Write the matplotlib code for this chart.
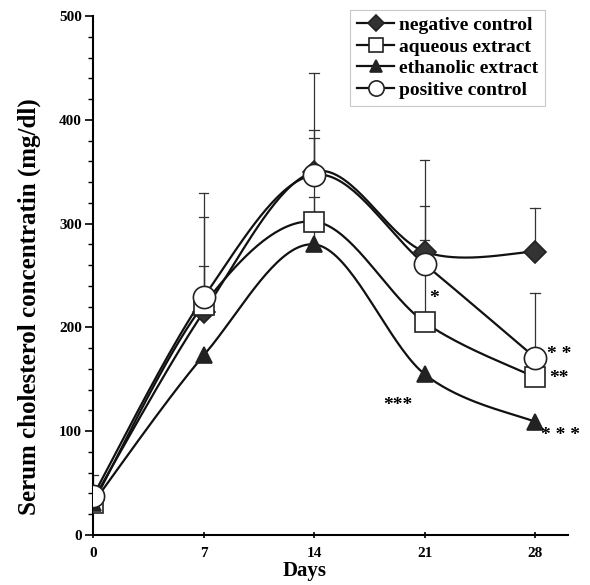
import numpy as np
import matplotlib
matplotlib.use("Agg")
import matplotlib.pyplot as plt
from matplotlib.ticker import MultipleLocator

plt.rcParams['font.family'] = ['Liberation Serif', 'DejaVu Serif']
plt.rcParams['font.weight'] = 'bold'

days = [0, 7, 14, 21, 28]
negative_control = [34, 215, 350, 273, 273]
aqueous_extract = [31, 222, 302, 205, 152]
ethanolic_extract = [31, 173, 280, 155, 109]
positive_control = [38, 229, 347, 261, 171]

# upper error-bar tops (only the upper half is drawn); NaN = not visible
negative_top = [np.nan, 306, 445, 284, 315]
aqueous_top = [np.nan, 259, 383, 317, np.nan]
ethanolic_top = [np.nan, np.nan, 326, np.nan, np.nan]
positive_top = [58, 330, 390, 361, 233]

labels = ["negative control", "aqueous extract", "ethanolic extract", "positive control"]
asterisks = [("*", 21.6, 228), ("***", 19.3, 125), ("* *", 29.5, 174),
             ("**", 29.5, 151), ("* * *", 29.6, 96)]


def catmull_rom(x, y, n=40):
    x = np.asarray(x, float); y = np.asarray(y, float)
    px = np.concatenate([[x[0]], x, [x[-1]]])
    py = np.concatenate([[y[0]], y, [y[-1]]])
    xs, ys = [], []
    t = np.linspace(0, 1, n)
    for i in range(1, len(px) - 2):
        p0, p1, p2, p3 = [np.array([px[j], py[j]]) for j in (i - 1, i, i + 1, i + 2)]
        c1 = p1 + (p2 - p0) / 6.0
        c2 = p2 - (p3 - p1) / 6.0
        b = ((1 - t) ** 3)[:, None] * p1 + (3 * (1 - t) ** 2 * t)[:, None] * c1 + \
            (3 * (1 - t) * t ** 2)[:, None] * c2 + (t ** 3)[:, None] * p2
        xs.append(b[:, 0]); ys.append(b[:, 1])
    return np.concatenate(xs), np.concatenate(ys)


fig = plt.figure(figsize=(5.9, 5.85), dpi=100)
ax = fig.add_axes([0.158, 0.0855, 0.805, 0.887])

series = [
    (negative_control, negative_top, dict(marker='D', markerfacecolor='#333333', markeredgecolor='#222222'), 11, 8),
    (aqueous_extract, aqueous_top, dict(marker='s', markerfacecolor='white', markeredgecolor='#222222'), 15, 10),
    (ethanolic_extract, ethanolic_top, dict(marker='^', markerfacecolor='#222222', markeredgecolor='#222222'), 12, 8),
    (positive_control, positive_top, dict(marker='o', markerfacecolor='white', markeredgecolor='#222222'), 16, 11),
]

# error bars (upper only)
for vals, tops, st, ms, lms in series:
    for d, v, t in zip(days, vals, tops):
        if np.isnan(t):
            continue
        ax.plot([d, d], [v, t], color='#333333', lw=0.9, zorder=1)
        ax.plot([d - 0.3, d + 0.3], [t, t], color='#333333', lw=0.9, zorder=1)

handles = []
for (vals, tops, st, ms, lms), lab in zip(series, labels):
    sx, sy = catmull_rom(days, vals)
    ax.plot(sx, sy, color='#111111', lw=1.6, zorder=2)
    ax.plot(days, vals, linestyle='none', markersize=ms, markeredgewidth=1.2, zorder=3, **st)
    h, = ax.plot([], [], color='#111111', lw=1.6, markersize=lms, markeredgewidth=1.2, **st)
    handles.append(h)

for txt, x, y in asterisks:
    ax.text(x, y, txt, fontsize=14, ha='center', va='center', fontweight='bold')

ax.set_xlim(0, 30.1)
ax.set_ylim(0, 500)
ax.set_xticks(days)
ax.yaxis.set_major_locator(MultipleLocator(100))
ax.yaxis.set_minor_locator(MultipleLocator(20))
ax.spines['top'].set_visible(False)
ax.spines['right'].set_visible(False)
ax.spines['left'].set_linewidth(1.5)
ax.spines['bottom'].set_linewidth(1.5)
ax.tick_params(axis='y', which='major', direction='out', length=6, width=1.2, labelsize=11, pad=2)
ax.tick_params(axis='y', which='minor', direction='out', length=3.5, width=1.0)
ax.tick_params(axis='x', which='major', direction='inout', length=5, width=1.2, labelsize=11, pad=6)
for lbl in ax.get_xticklabels() + ax.get_yticklabels():
    lbl.set_fontweight('bold')

ax.set_ylabel("Serum cholesterol concentratin (mg/dl)", fontsize=18, fontweight='bold')
ax.yaxis.set_label_coords(-0.11, 0.44)
ax.set_xlabel("Days", fontsize=15, fontweight='bold')
ax.xaxis.set_label_coords(0.446, -0.05)

leg = ax.legend(handles, labels, loc='upper right', bbox_to_anchor=(0.951, 1.012),
                borderaxespad=0, fontsize=14, handlelength=1.9, handletextpad=0.25,
                labelspacing=0.2, frameon=True, fancybox=False, borderpad=0.35)
leg.get_frame().set_edgecolor('#bbbbbb')
leg.get_frame().set_linewidth(0.8)
for t in leg.get_texts():
    t.set_fontweight('bold')

fig.savefig("out.png", dpi=100)
